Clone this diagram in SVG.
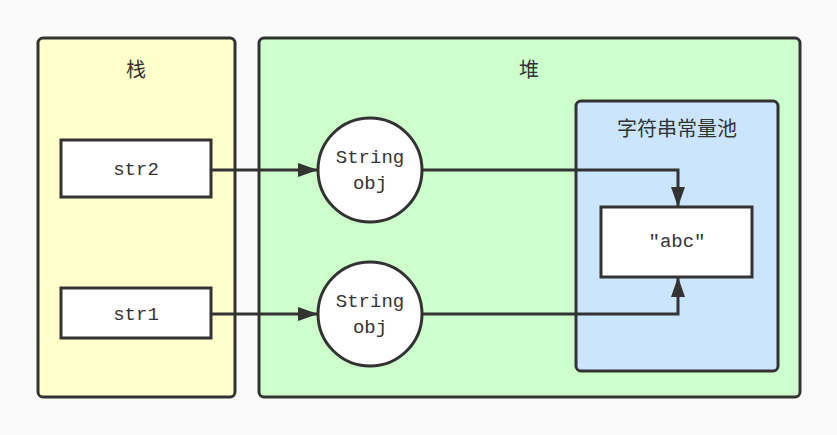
<svg xmlns="http://www.w3.org/2000/svg" width="837" height="435" viewBox="0 0 837 435">
<style>
.box{stroke:#333;stroke-width:3}
.t{font-family:"Liberation Mono","Noto Sans CJK SC",monospace;font-size:19px;fill:#333;text-anchor:middle;dominant-baseline:central}
.c{font-family:"Noto Sans CJK SC",sans-serif;font-size:20px;fill:#333;text-anchor:middle;dominant-baseline:central}
.ln{fill:none;stroke:#333;stroke-width:3}
</style>
<defs>
<marker id="ar" markerWidth="20" markerHeight="14" refX="20" refY="7" orient="auto" markerUnits="userSpaceOnUse">
<path d="M0,0 L20,7 L0,14 Z" fill="#333"/>
</marker>
</defs>
<rect width="837" height="435" fill="#fafafa"/>
<g id="stack">
<rect class="box" x="38" y="38" width="197" height="359" rx="5" fill="#ffffcc"/>
<text class="c" x="136" y="68">栈</text>
</g>
<g id="heap">
<rect class="box" x="259" y="38" width="541" height="359" rx="5" fill="#ccffcc"/>
<text class="c" x="529" y="68">堆</text>
</g>
<g id="pool">
<rect class="box" x="576" y="101" width="202" height="270" rx="5" fill="#cce5ff"/>
<text class="c" x="677" y="127">字符串常量池</text>
</g>
<g id="str2">
<rect class="box" x="61" y="140" width="150" height="57" fill="#fff"/>
<text class="t" x="136" y="170">str2</text>
</g>
<g id="str1">
<rect class="box" x="61" y="288" width="150" height="50" fill="#fff"/>
<text class="t" x="136" y="315">str1</text>
</g>
<g id="obj1">
<circle class="box" cx="370" cy="170" r="52" fill="#fff"/>
<text class="t" x="370" y="158">String</text>
<text class="t" x="370" y="184">obj</text>
</g>
<g id="obj2">
<circle class="box" cx="370" cy="314" r="52" fill="#fff"/>
<text class="t" x="370" y="302">String</text>
<text class="t" x="370" y="328">obj</text>
</g>
<g id="abc">
<rect class="box" x="601" y="207" width="151" height="70" fill="#fff"/>
<text class="t" x="677" y="242">″abc″</text>
</g>
<g id="connectors">
<path class="ln" d="M211,170 L318,170" marker-end="url(#ar)"/>
<path class="ln" d="M211,314 L318,314" marker-end="url(#ar)"/>
<path class="ln" d="M422,170 L678,170 L678,207" marker-end="url(#ar)"/>
<path class="ln" d="M422,314 L678,314 L678,277" marker-end="url(#ar)"/>
</g>
</svg>
